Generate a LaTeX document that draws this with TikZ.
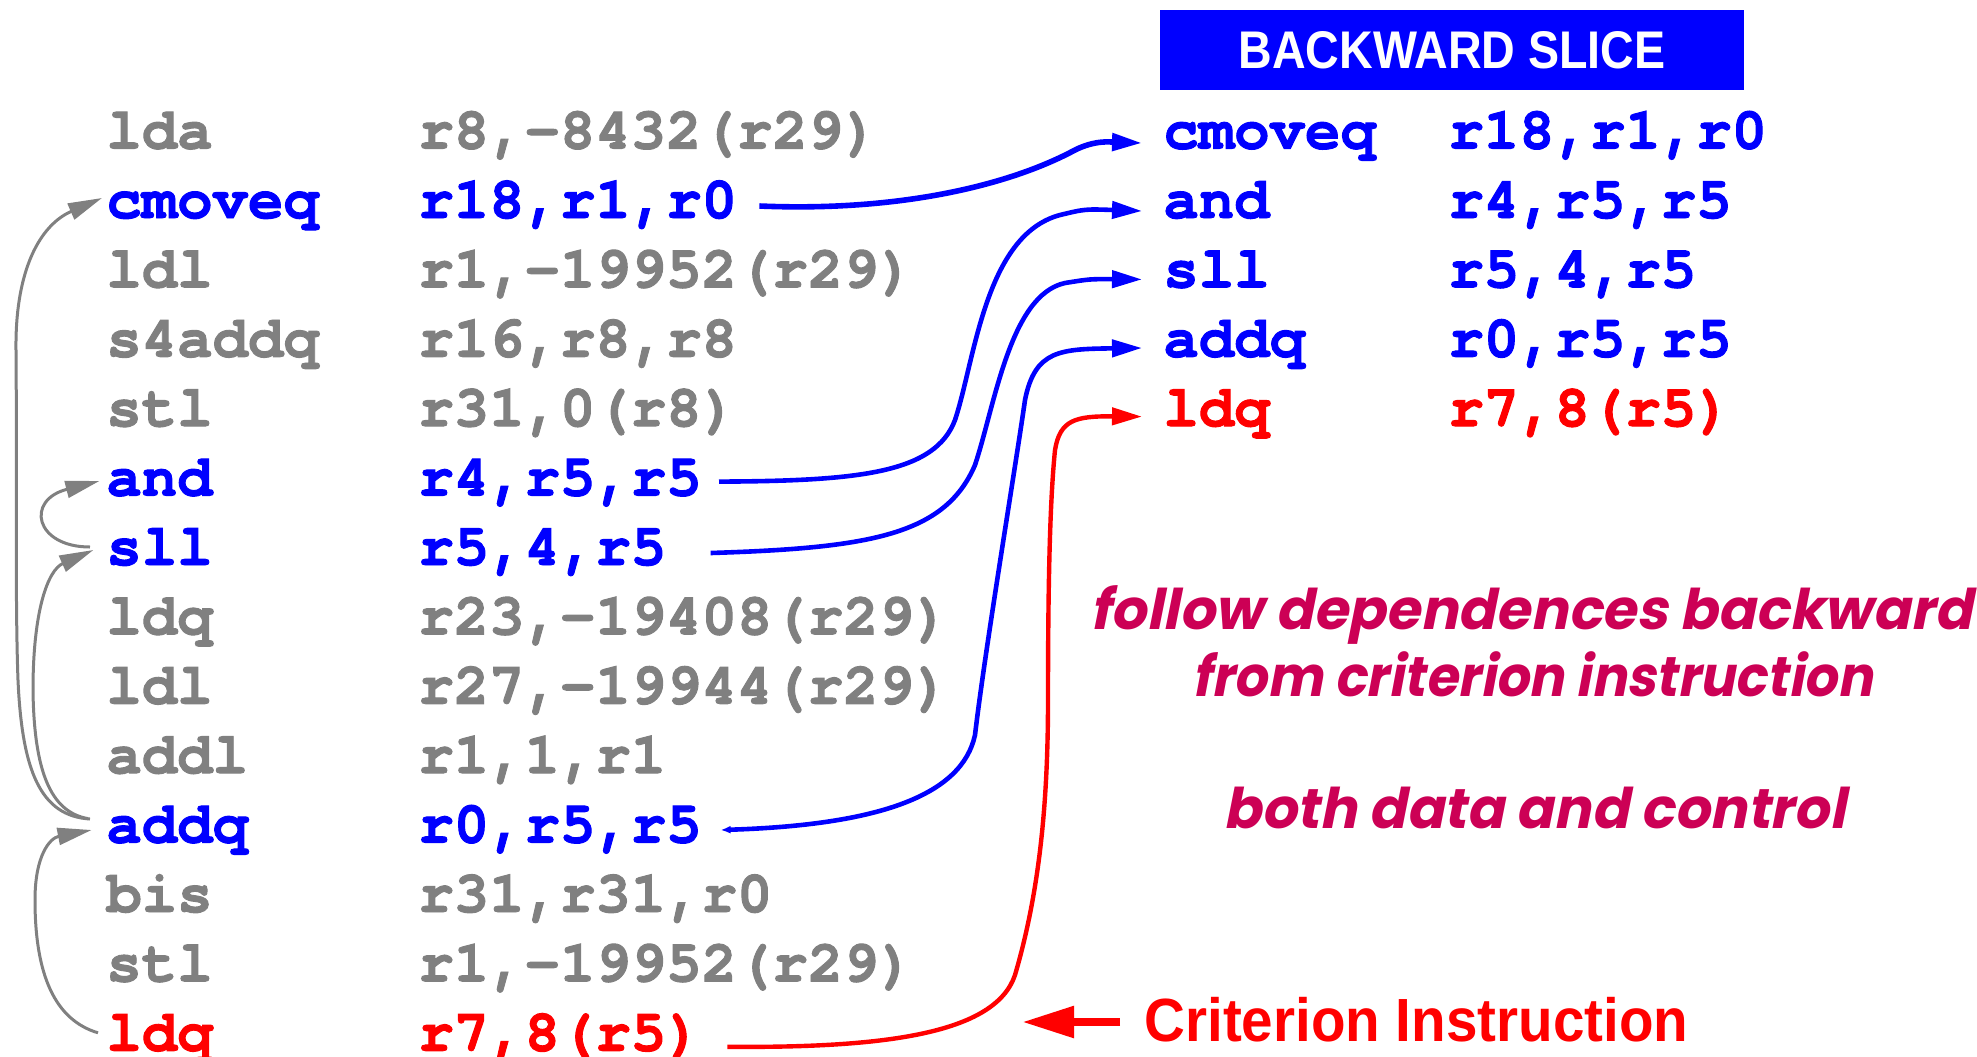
\documentclass[tikz,border=0pt]{standalone}
\usepackage{fontspec}
\usepackage{graphicx}
\usetikzlibrary{arrows.meta}

\newfontfamily\codefont[BoldFeatures={FakeBold=1.6}]{TeX Gyre Cursor}
\newfontfamily\headfont{Liberation Sans}
\newfontfamily\notefont[FakeSlant=0.2,BoldFeatures={FakeSlant=0.2}]{Poppins}

\definecolor{codegray}{RGB}{128,128,128}
\definecolor{sliceblue}{RGB}{0,0,255}
\definecolor{critred}{RGB}{255,0,0}
\definecolor{noteberry}{RGB}{204,0,85}

\tikzset{
  code/.style={anchor=base west, inner sep=0pt,
    font=\codefont\bfseries\fontsize{29.5}{29.5}\selectfont},
  plain/.style={code, text=codegray},
  slice/.style={code, text=sliceblue},
  crit/.style={code, text=critred},
  note/.style={anchor=base west, inner sep=0pt, text=noteberry,
    font=\notefont\bfseries\fontsize{28}{28}\selectfont},
  dep/.style={draw=codegray, line width=1.5pt,
    -{Triangle[length=17pt,width=8.5pt]}},
  copyline/.style={draw=sliceblue, line width=2.3pt,
    -{Triangle[length=15pt,width=8.5pt]}},
  critline/.style={draw=critred, line width=2.2pt,
    -{Triangle[length=15pt,width=8.5pt]}},
}

\begin{document}
\begin{tikzpicture}[x=0.5pt,y=-0.5pt]
\useasboundingbox (0,0) rectangle (1977,1056);

% ---- original instruction sequence ----
\node[plain] (L0m)  at (106,148.6)  {lda};    \node[plain] (L0o)  at (418,148.6)  {r8,-8432(r29)};
\node[slice] (L1m)  at (106,218.0)  {cmoveq}; \node[slice] (L1o)  at (418,218.0)  {r18,r1,r0};
\node[plain] (L2m)  at (106,287.4)  {ldl};    \node[plain] (L2o)  at (418,287.4)  {r1,-19952(r29)};
\node[plain] (L3m)  at (106,356.8)  {s4addq}; \node[plain] (L3o)  at (418,356.8)  {r16,r8,r8};
\node[plain] (L4m)  at (106,426.2)  {stl};    \node[plain] (L4o)  at (418,426.2)  {r31,0(r8)};
\node[slice] (L5m)  at (106,495.6)  {and};    \node[slice] (L5o)  at (418,495.6)  {r4,r5,r5};
\node[slice] (L6m)  at (106,565.0)  {sll};    \node[slice] (L6o)  at (418,565.0)  {r5,4,r5};
\node[plain] (L7m)  at (106,634.4)  {ldq};    \node[plain] (L7o)  at (418,634.4)  {r23,-19408(r29)};
\node[plain] (L8m)  at (106,703.8)  {ldl};    \node[plain] (L8o)  at (418,703.8)  {r27,-19944(r29)};
\node[plain] (L9m)  at (106,773.2)  {addl};   \node[plain] (L9o)  at (418,773.2)  {r1,1,r1};
\node[slice] (L10m) at (106,842.6)  {addq};   \node[slice] (L10o) at (418,842.6)  {r0,r5,r5};
\node[plain] (L11m) at (106,912.0)  {bis};    \node[plain] (L11o) at (418,912.0)  {r31,r31,r0};
\node[plain] (L12m) at (106,981.4)  {stl};    \node[plain] (L12o) at (418,981.4)  {r1,-19952(r29)};
\node[crit]  (L13m) at (106,1050.8) {ldq};    \node[crit]  (L13o) at (418,1050.8) {r7,8(r5)};

% ---- extracted slice ----
\node[fill=sliceblue, text=white, inner sep=0pt, minimum width=292pt, minimum height=40pt,
      font=\headfont\bfseries\fontsize{26.5}{27}\selectfont]
  (banner) at (1452,50) {\resizebox{213.5pt}{\height}{BACKWARD SLICE}};

\node[slice] (R0m) at (1163,148.6) {cmoveq}; \node[slice] (R0o) at (1448,148.6) {r18,r1,r0};
\node[slice] (R1m) at (1163,218.0) {and};    \node[slice] (R1o) at (1448,218.0) {r4,r5,r5};
\node[slice] (R2m) at (1163,287.4) {sll};    \node[slice] (R2o) at (1448,287.4) {r5,4,r5};
\node[slice] (R3m) at (1163,356.8) {addq};   \node[slice] (R3o) at (1448,356.8) {r0,r5,r5};
\node[crit]  (R4m) at (1163,426.2) {ldq};    \node[crit]  (R4o) at (1448,426.2) {r7,8(r5)};

% ---- explanatory notes ----
\node[note] (note1) at (1090,629) {\resizebox{441pt}{\height}{follow dependences backward}};
\node[note] (note2) at (1192,696) {\resizebox{340pt}{\height}{from criterion instruction}};
\node[note] (note3) at (1223,828) {\resizebox{311pt}{\height}{both data and control}};

\node[anchor=base west, inner sep=0pt, text=critred,
      font=\headfont\bfseries\fontsize{30.5}{31}\selectfont]
  (critlabel) at (1144,1041) {\resizebox{272pt}{\height}{Criterion Instruction}};
\coordinate (critTip) at (1022,1022);
\draw[critred, line width=4.3pt, -{Triangle[length=26pt,width=15pt]}]
  ([xshift=-12pt,yshift=9.5pt]critlabel.base west) -- (critTip);

% ---- dependence edges inside the original code ----
\draw[dep] ([xshift=-8pt,yshift=11.8pt]L10m.base west)
  .. controls (40,816) and (22,770) .. (18,680)
  .. controls (15,600) and (17,450) .. (16,350)
  .. controls (15,270) and (40,225) .. ([xshift=-2pt,yshift=10pt]L1m.base west);
\draw[dep] ([xshift=-9pt,yshift=12pt]L10m.base west)
  .. controls (50,812) and (34,770) .. (33,690)
  .. controls (33,610) and (48,570) .. ([xshift=-6.3pt,yshift=7.5pt]L6m.base west);
\draw[dep] ([xshift=-8pt,yshift=9pt]L6m.base west)
  .. controls (35,547) and (25,500) .. ([xshift=-3.3pt,yshift=7.3pt]L5m.base west);
\draw[dep] ([xshift=-4pt,yshift=9pt]L13m.base west)
  .. controls (55,1020) and (35,975) .. (35,900)
  .. controls (35,855) and (50,838) .. ([xshift=-7.2pt,yshift=6.3pt]L10m.base west);

% ---- slice membership edges ----
\draw[copyline, line width=2.8pt] ([xshift=11pt,yshift=6pt]L1o.base east)
  .. controls (900,212) and (1010,185) .. (1075,150)
  .. controls (1095,140) and (1110,142) .. ([xshift=-10.5pt,yshift=2.8pt]R0m.base west);
\draw[copyline] ([xshift=8.5pt,yshift=7pt]L5o.base east)
  .. controls (860,481) and (935,473) .. (955,420)
  .. controls (975,360) and (985,235) .. (1060,215)
  .. controls (1085,209) .. ([xshift=-10.5pt,yshift=3.5pt]R1m.base west);
\draw[copyline] ([xshift=22pt,yshift=6pt]L6o.base east)
  .. controls (870,548) and (945,535) .. (975,465)
  .. controls (995,405) and (1010,295) .. (1065,283)
  .. controls (1090,279) .. ([xshift=-10.5pt,yshift=4pt]R2m.base west);
\draw[copyline, {Latex[length=5pt,width=4pt]}-{Triangle[length=15pt,width=8.5pt]}]
  ([xshift=9.3pt,yshift=6.3pt]L10o.base east)
  .. controls (880,825) and (962,795) .. (975,735)
  .. controls (985,650) and (1015,470) .. (1025,400)
  .. controls (1035,350) and (1060,349) .. ([xshift=-10.5pt,yshift=4.4pt]R3m.base west);
\draw[critline] ([xshift=12.7pt,yshift=2pt]L13o.base east)
  .. controls (880,1048) and (995,1035) .. (1015,975)
  .. controls (1040,890) and (1048,800) .. (1048,700)
  .. controls (1048,580) and (1050,500) .. (1055,450)
  .. controls (1060,420) and (1075,416) .. ([xshift=-10.5pt,yshift=4.8pt]R4m.base west);
\end{tikzpicture}
\end{document}
